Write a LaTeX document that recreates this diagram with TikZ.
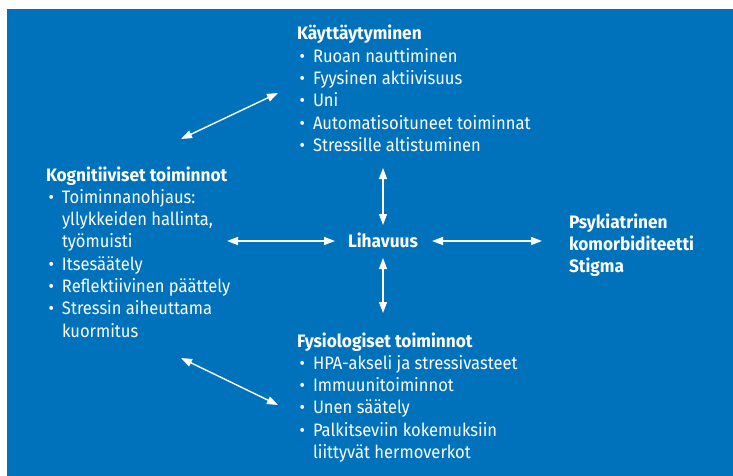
\documentclass[tikz,border=0pt]{standalone}
\usepackage{fontspec}
\setmainfont{Fira Sans}[FakeStretch=0.92,BoldFeatures={FakeStretch=0.96}]
\usetikzlibrary{arrows.meta}
\definecolor{bgblue}{RGB}{0,114,188}
\newcommand{\bul}{\makebox[16pt][l]{\hspace{2.5pt}\textbullet}}
\newcommand{\ind}{\hspace{16pt}}
\begin{document}
\begin{tikzpicture}[x=1pt,y=-1pt,
  txt/.style={anchor=base west,inner sep=0pt,outer sep=0pt,text=white,
    font=\fontsize{18}{22.3}\selectfont},
  arr/.style={white,line width=1.4pt,{Triangle[length=11pt,width=8pt]}-{Triangle[length=11pt,width=8pt]}}]
\useasboundingbox (0,0) rectangle (733,476);
\fill[bgblue] (7,9) rectangle (733,476);

\node[txt] (beh) at (297,40) {\begin{tabular}[t]{@{}l@{}}
\textbf{Käyttäytyminen}\\
\bul Ruoan nauttiminen\\
\bul Fyysinen aktiivisuus\\
\bul Uni\\
\bul Automatisoituneet toiminnat\\
\bul Stressille altistuminen
\end{tabular}};

\node[txt] (cog) at (46,181) {\begin{tabular}[t]{@{}l@{}}
\textbf{Kognitiiviset toiminnot}\\
\bul Toiminnanohjaus:\\
\ind yllykkeiden hallinta,\\
\ind työmuisti\\
\bul Itsesäätely\\
\bul Reflektiivinen päättely\\
\bul Stressin aiheuttama\\
\ind kuormitus
\end{tabular}};

\node[txt] (fys) at (297,347) {\begin{tabular}[t]{@{}l@{}}
\textbf{Fysiologiset toiminnot}\\
\bul HPA-akseli ja stressivasteet\\
\bul Immuunitoiminnot\\
\bul Unen säätely\\
\bul Palkitseviin kokemuksiin\\
\ind liittyvät hermoverkot
\end{tabular}};

\node[txt] (psy) at (569,228) {\begin{tabular}[t]{@{}l@{}}
\textbf{Psykiatrinen}\\
\textbf{komorbiditeetti}\\
\textbf{Stigma}
\end{tabular}};

\node[txt] (lih) at (348,247) {\textbf{Lihavuus}};

\coordinate (a1) at (181,139);
\coordinate (a2) at (278,93);
\coordinate (b1) at (181,358);
\coordinate (b2) at (278,405);
\coordinate (c1) at (383,168);
\coordinate (c2) at (383,225);
\coordinate (d1) at (383,258);
\coordinate (d2) at (383,313);
\coordinate (e1) at (227,241);
\coordinate (e2) at (335,241);
\coordinate (f1) at (432,241);
\coordinate (f2) at (542,241);

\draw[arr] (a1) -- (a2);
\draw[arr] (b1) -- (b2);
\draw[arr] (c1) -- (c2);
\draw[arr] (d1) -- (d2);
\draw[arr] (e1) -- (e2);
\draw[arr] (f1) -- (f2);
\end{tikzpicture}
\end{document}
